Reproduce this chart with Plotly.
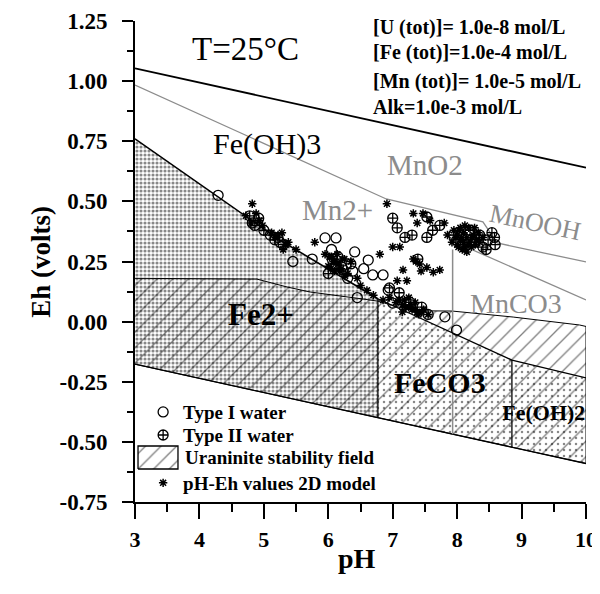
import plotly.graph_objects as go

FONT = "Liberation Serif, Times New Roman, serif"
GREY = "#8c8c8c"

# ---------------- axis ticks ----------------
x_ticks = [3, 4, 5, 6, 7, 8, 9, 10]
x_tick_text = ["3", "4", "5", "6", "7", "8", "9", "10"]
y_ticks = [1.25, 1.0, 0.75, 0.5, 0.25, 0.0, -0.25, -0.5, -0.75]
y_tick_text = ["1.25", "1.00", "0.75", "0.50", "0.25", "0.00", "-0.25", "-0.50", "-0.75"]

# ---------------- water stability limits ----------------
o2_ph = [3.0, 10.0]
o2_eh = [1.053, 0.640]
h2_ph = [3.0, 6.77, 8.85, 10.0]
h2_eh = [-0.177, -0.399, -0.522, -0.590]

# ---------------- Fe boundaries ----------------
fe3_fe2_ph = [3.0, 4.29, 5.25, 6.77]
fe3_fe2_eh = [0.76, 0.518, 0.339, 0.095]
fe3_feco3_ph = [6.77, 8.85]
fe3_feco3_eh = [0.095, -0.16]
fe3_feoh2_ph = [8.85, 10.0]
fe3_feoh2_eh = [-0.16, -0.234]

# ---------------- uraninite field upper limit ----------------
ur_ph = [3.0, 4.89, 5.36, 5.72, 6.54, 6.77, 7.1, 7.4, 7.92, 8.87, 9.9, 10.0]
ur_eh = [0.18, 0.177, 0.144, 0.123, 0.094, 0.085, 0.06, 0.045, 0.044, 0.019, -0.014, -0.02]

# ---------------- Mn boundaries ----------------
mn_a_ph = [3.0, 6.9, 8.4, 8.62, 10.0]
mn_a_eh = [0.984, 0.51, 0.415, 0.327, 0.248]
mn_c_ph = [7.93, 10.0]
mn_c_eh = [0.335, 0.09]
mn_v_ph = [7.93, 7.93]
mn_v_eh = [-0.468, 0.30]

# ---------------- samples ----------------
type1_ph = [4.29, 4.82, 5.25, 5.45, 5.95, 6.12, 6.21, 6.41, 6.62, 6.69, 6.85, 6.93,
            6.30, 6.45, 7.00, 7.81, 7.99, 6.55, 5.75, 6.05, 7.55, 6.15, 6.38]
type1_eh = [0.525, 0.41, 0.33, 0.25, 0.348, 0.348, 0.227, 0.29, 0.256, 0.194, 0.194, 0.131,
            0.18, 0.10, 0.077, 0.02, -0.035, 0.22, 0.26, 0.30, 0.03, 0.27, 0.21]

type2_ph = [4.78, 4.86, 5.10, 5.17, 5.30, 5.00, 6.06, 6.23, 6.00, 6.35, 7.00, 7.07, 7.19,
            7.30, 7.53, 7.53, 7.73, 7.62, 7.94, 8.20, 8.35, 8.48, 8.59, 8.40, 8.54, 8.28,
            8.45, 8.58, 7.39, 7.27, 7.10, 6.95, 7.45, 6.12, 5.22, 4.92]
type2_eh = [0.44, 0.40, 0.36, 0.34, 0.32, 0.38, 0.26, 0.215, 0.20, 0.24, 0.43, 0.39, 0.35,
            0.36, 0.35, 0.435, 0.40, 0.38, 0.36, 0.38, 0.36, 0.34, 0.32, 0.31, 0.37, 0.33,
            0.30, 0.35, 0.26, 0.08, 0.12, 0.14, 0.06, 0.24, 0.35, 0.43]

model_ph = [4.82, 4.72, 4.98, 5.12, 5.22, 5.38, 5.30, 5.50, 5.79, 5.95, 6.05, 6.10, 6.15,
            6.20, 6.00, 6.30, 6.45, 6.50, 6.60, 6.70, 6.85, 6.95, 7.05, 7.15, 7.25, 7.35,
            7.45, 7.55, 6.91, 7.11, 7.00, 6.80, 7.16, 7.07, 7.22, 7.32, 7.42, 7.53, 7.63,
            7.73, 7.32, 7.38, 7.47, 7.58, 7.95, 8.00, 8.05, 8.10, 8.15, 8.20, 8.00, 8.08,
            8.12, 8.25, 8.30, 8.18, 7.98, 8.05, 8.22, 8.28, 8.35, 8.10, 7.92, 8.15, 8.40,
            8.33, 8.02, 8.27, 8.12, 7.10, 7.20, 7.30, 7.25, 7.35, 7.15, 7.40, 6.25, 6.35,
            6.10, 7.85, 7.80, 6.02, 6.08, 6.18, 6.26, 6.04, 6.14, 6.22, 4.88, 4.93, 4.80,
            5.18, 5.28, 5.34, 7.18, 7.28, 7.38, 7.48, 8.07, 8.17, 8.03, 8.23, 7.36, 7.44]
model_eh = [0.49, 0.44, 0.40, 0.37, 0.36, 0.33, 0.30, 0.30, 0.33, 0.28, 0.27, 0.25, 0.24,
            0.22, 0.23, 0.20, 0.18, 0.15, 0.13, 0.11, 0.09, 0.10, 0.08, 0.07, 0.06, 0.05,
            0.04, 0.03, 0.49, 0.31, 0.31, 0.28, 0.215, 0.17, 0.17, 0.26, 0.24, 0.225, 0.205,
            0.215, 0.45, 0.41, 0.45, 0.42, 0.38, 0.36, 0.34, 0.37, 0.35, 0.33, 0.32, 0.30,
            0.31, 0.36, 0.34, 0.39, 0.35, 0.39, 0.31, 0.32, 0.33, 0.33, 0.33, 0.29, 0.35,
            0.37, 0.31, 0.39, 0.40, 0.09, 0.06, 0.05, 0.10, 0.08, 0.04, 0.03, 0.26, 0.25,
            0.21, 0.36, 0.41, 0.27, 0.25, 0.21, 0.19, 0.22, 0.28, 0.26, 0.45, 0.42, 0.41,
            0.35, 0.37, 0.32, 0.09, 0.07, 0.04, 0.05, 0.35, 0.32, 0.38, 0.35, 0.25, 0.21]

legend_names = ["Type I water", "Type II water", "Uraninite stability field",
                "pH-Eh values 2D model"]

fig = go.Figure()

def region(xs, ys, dot_size, solidity):
    fig.add_trace(go.Scatter(
        x=xs, y=ys, mode="lines", fill="toself", line=dict(width=0),
        fillcolor="rgba(0,0,0,0)",
        fillpattern=dict(shape=".", size=dot_size, solidity=solidity,
                         fgcolor="#111111", bgcolor="white"),
        hoverinfo="skip", showlegend=False))

# Fe2+ field (dense stipple)
region(fe3_fe2_ph + [6.77, 3.0], fe3_fe2_eh + [h2_eh[1], h2_eh[0]], 4, 0.48)
# FeCO3 field
region(fe3_feco3_ph + [8.85, 6.77], fe3_feco3_eh + [h2_eh[2], h2_eh[1]], 6, 0.14)
# Fe(OH)2 field
region(fe3_feoh2_ph + [10.0, 8.85], fe3_feoh2_eh + [h2_eh[3], h2_eh[2]], 6, 0.14)

HATCH = dict(shape="/", size=11, solidity=0.12, fgcolor="black")

# Uraninite stability field (hatched)
fig.add_trace(go.Scatter(
    x=ur_ph + h2_ph[::-1], y=ur_eh + h2_eh[::-1], mode="lines", fill="toself",
    line=dict(width=1, color="black"), fillcolor="rgba(0,0,0,0)",
    fillpattern=HATCH, showlegend=False, hoverinfo="skip"))

def line(xs, ys, color="black", width=1.3):
    fig.add_trace(go.Scatter(x=xs, y=ys, mode="lines",
                             line=dict(color=color, width=width),
                             hoverinfo="skip", showlegend=False))

line(o2_ph, o2_eh, width=1.8)
line(h2_ph, h2_eh, width=1.3)
line(fe3_fe2_ph, fe3_fe2_eh, width=1.6)
line(fe3_feco3_ph, fe3_feco3_eh)
line(fe3_feoh2_ph, fe3_feoh2_eh)
line([fe3_fe2_ph[-1], fe3_fe2_ph[-1]], [fe3_fe2_eh[-1], h2_eh[1]])
line([fe3_feco3_ph[-1], fe3_feco3_ph[-1]], [fe3_feco3_eh[-1], h2_eh[2]])
line(mn_a_ph, mn_a_eh, GREY, 1.3)
line(mn_c_ph, mn_c_eh, GREY, 1.3)
line(mn_v_ph, mn_v_eh, GREY, 1.5)

fig.add_trace(go.Scatter(
    x=type1_ph, y=type1_eh, mode="markers", name=legend_names[0], legend="legend",
    marker=dict(symbol="circle-open", size=10, color="black", line=dict(width=1.3))))
fig.add_trace(go.Scatter(
    x=type2_ph, y=type2_eh, mode="markers", name=legend_names[1], legend="legend2",
    marker=dict(symbol="circle-cross-open", size=10, color="black", line=dict(width=1.3))))
fig.add_trace(go.Scatter(
    x=model_ph, y=model_eh, mode="markers", name=legend_names[3], legend="legend4",
    marker=dict(symbol="asterisk-open", size=7, color="black",
                line=dict(width=1.5, color="black"))))

# Fe(OH)2 label, clipped at the plot edge
fig.add_trace(go.Scatter(
    x=[8.70], y=[-0.388], mode="text", text=["Fe(OH)2"], textposition="middle right",
    textfont=dict(family=FONT, size=22, color="black", weight="bold"),
    cliponaxis=True, showlegend=False, hoverinfo="skip"))

# legend swatch for the hatched uraninite field (drawn in a 0..1 helper frame)
fig.add_trace(go.Scatter(
    x=[0.0067, 0.0953, 0.0953, 0.0067, 0.0067], y=[0.0686, 0.0686, 0.1164, 0.1164, 0.0686],
    xaxis="x2", yaxis="y2", mode="lines", fill="toself",
    line=dict(color="black", width=1.3), fillcolor="rgba(0,0,0,0)",
    fillpattern=HATCH, showlegend=False, hoverinfo="skip"))

def label(x, y, text, size, color="black", bold=False, angle=0, xanchor="center"):
    fig.add_annotation(x=x, y=y, xref="x", yref="y", text=text, showarrow=False,
                       textangle=angle, xanchor=xanchor, yanchor="middle",
                       font=dict(family=FONT, size=size, color=color,
                                 weight="bold" if bold else "normal"))

label(4.71, 1.135, "T=25°C", 33)
label(5.05, 0.738, "Fe(OH)3", 30)
label(7.50, 0.651, "MnO2", 29, GREY)
label(6.15, 0.464, "Mn2+", 29, GREY)
label(9.21, 0.414, "MnOOH", 26, GREY, angle=12)
label(8.91, 0.077, "MnCO3", 28, GREY)
label(4.96, 0.028, "Fe2+", 31, bold=True)
label(7.73, -0.255, "FeCO3", 30, bold=True)

cond = ["[U (tot)]= 1.0e-8 mol/L", "[Fe (tot)]=1.0e-4 mol/L",
        "[Mn (tot)]= 1.0e-5 mol/L", "Alk=1.0e-3 mol/L"]
for t, yy in zip(cond, [1.221, 1.117, 1.0, 0.892]):
    label(6.66, yy, t, 20, bold=True, xanchor="left")

fig.add_annotation(x=0.1064, y=0.0915, xref="paper", yref="paper", text=legend_names[2],
                   xanchor="left", yanchor="middle", showarrow=False,
                   font=dict(family=FONT, size=19, color="black", weight="bold"))
fig.add_annotation(x=-0.248, y=0.50, xref="paper", yref="paper", text="Eh (volts)",
                   textangle=-90, showarrow=False,
                   font=dict(family=FONT, size=27, color="black", weight="bold"))
fig.add_annotation(x=0.492, y=-0.153, xref="paper", yref="paper", text="pH",
                   showarrow=False,
                   font=dict(family=FONT, size=28, color="black", weight="bold"))

LEG = dict(x=0.018, xanchor="left", yanchor="middle", bgcolor="rgba(0,0,0,0)",
           font=dict(family=FONT, size=19, color="black", weight="bold"),
           itemwidth=30, borderwidth=0)

# page has an 8px body margin: figure is 8px smaller so the plot lands where the reference has it
fig.update_layout(
    width=592, height=586, margin=dict(l=127, r=14, t=13, b=92, autoexpand=False),
    paper_bgcolor="white", plot_bgcolor="white",
    showlegend=True,
    legend=dict(LEG, y=0.187),
    legend2=dict(LEG, y=0.139),
    legend4=dict(LEG, y=0.0395),
    xaxis=dict(range=[3, 10], tickmode="array", tickvals=x_ticks, ticktext=x_tick_text,
               automargin=False,
               showline=True, linecolor="black", linewidth=2, ticks="outside",
               ticklen=15, tickwidth=2, tickcolor="black", showgrid=False, zeroline=False,
               tickfont=dict(family=FONT, size=22, color="black", weight="bold"),
               ticklabelstandoff=2,
               minor=dict(tick0=3, dtick=0.5, ticks="outside", ticklen=8, tickwidth=2,
                          tickcolor="black", showgrid=False)),
    yaxis=dict(range=[-0.75, 1.25], tickmode="array", tickvals=y_ticks, ticktext=y_tick_text,
               automargin=False,
               showline=True, linecolor="black", linewidth=2, ticks="outside",
               ticklen=11, tickwidth=2, tickcolor="black", showgrid=False, zeroline=False,
               tickfont=dict(family=FONT, size=23, color="black", weight="bold"),
               ticklabelstandoff=10,
               minor=dict(tick0=-0.75, dtick=0.125, ticks="outside", ticklen=6, tickwidth=2,
                          tickcolor="black", showgrid=False)),
    xaxis2=dict(range=[0, 1], overlaying="x", visible=False, fixedrange=True),
    yaxis2=dict(range=[0, 1], overlaying="y", visible=False, fixedrange=True),
)

fig.write_html("out.html")
